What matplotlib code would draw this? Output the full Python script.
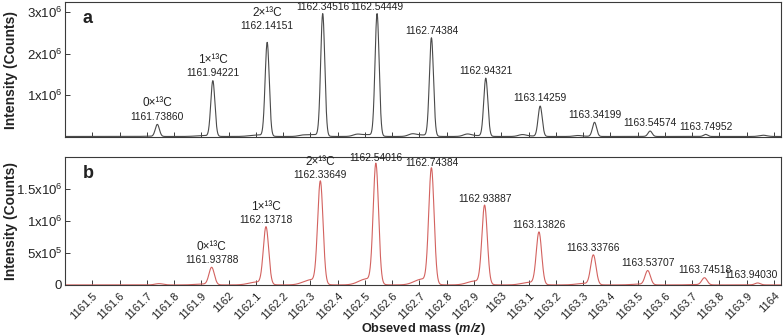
import numpy as np
import matplotlib
matplotlib.use("Agg")
import matplotlib.pyplot as plt

# ======================================================
# Setup
# ======================================================

plt.rcParams["font.family"] = ["Liberation Sans", "DejaVu Sans"]
plt.rcParams["mathtext.fontset"] = "custom"
plt.rcParams["mathtext.rm"] = "Liberation Sans"
plt.rcParams["mathtext.it"] = "Liberation Sans:italic"
plt.rcParams["mathtext.bf"] = "Liberation Sans:bold"
plt.rcParams["mathtext.bfit"] = "Liberation Sans:italic:bold"

LINE_A = "#4a4a4a"
LINE_B = "#d3625f"
SPINE = "#3a3a3a"
TEXT = "#222222"

XLIM = (1161.4, 1164.026)

# ======================================================
# DATA
# ======================================================

# panel a: labelled peaks (m/z, intensity)
mz_a = [1161.73860, 1161.94221, 1162.14151, 1162.34516, 1162.54449, 1162.74384,
        1162.94321, 1163.14259, 1163.34199, 1163.54574, 1163.74952]
int_a = [0.29e6, 1.34e6, 2.26e6, 2.95e6, 2.95e6, 2.37e6,
         1.40e6, 0.73e6, 0.34e6, 0.13e6, 0.05e6]
labels_a = ["1161.73860", "1161.94221", "1162.14151", "1162.34516", "1162.54449",
            "1162.74384", "1162.94321", "1163.14259", "1163.34199", "1163.54574",
            "1163.74952"]
iso_a = {0: "0×¹³C", 1: "1×¹³C", 2: "2×¹³C"}

# panel a: small unlabelled bumps
minor_mz_a = [1162.27, 1162.47, 1162.673, 1162.875, 1163.077, 1163.28, 1163.96]
minor_int_a = [0.02e6, 0.04e6, 0.05e6, 0.05e6, 0.04e6, 0.02e6, 0.03e6]

# panel b: labelled peaks
mz_b = [1161.93788, 1162.13718, 1162.33649, 1162.54016, 1162.74384, 1162.93887,
        1163.13826, 1163.33766, 1163.53707, 1163.74518, 1163.94030]
int_b = [0.27e6, 0.89e6, 1.59e6, 1.86e6, 1.79e6, 1.22e6,
         0.81e6, 0.46e6, 0.22e6, 0.11e6, 0.03e6]
labels_b = ["1161.93788", "1162.13718", "1162.33649", "1162.54016", "1162.74384",
            "1162.93887", "1163.13826", "1163.33766", "1163.53707", "1163.74518",
            "1163.94030"]
iso_b = {0: "0×¹³C", 1: "1×¹³C", 2: "2×¹³C"}

minor_mz_b = [1161.745]
minor_int_b = [0.02e6]

xticks = np.round(np.arange(1161.5, 1164.01, 0.1), 1)
xtick_labels = [("%g" % t) for t in xticks]

yticks_a = [1e6, 2e6, 3e6]
ytick_labels_a = [r"1x10$^{6}$", r"2x10$^{6}$", r"3x10$^{6}$"]
yticks_b = [0, 5e5, 1e6, 1.5e6]
ytick_labels_b = ["0", r"5x10$^{5}$", r"1x10$^{6}$", r"1.5x10$^{6}$"]


# ======================================================
# Profile helpers
# ======================================================

def profile(x, centers, heights, sigma, shoulder=0.0):
    y = np.zeros_like(x)
    for c, h in zip(centers, heights):
        y += h * np.exp(-0.5 * ((x - c) / sigma) ** 2)
        if shoulder:
            y += shoulder * h * np.exp(-0.5 * ((x - c + 0.035) / 0.028) ** 2)
    return y


def style_axes(ax):
    for s in ax.spines.values():
        s.set_color(SPINE)
        s.set_linewidth(0.8)
    ax.tick_params(direction="in", length=3.5, width=0.7, color=SPINE,
                   labelcolor=TEXT)
    ax.tick_params(axis="y", labelsize=9.5, pad=2)
    ax.set_xlim(*XLIM)
    ax.set_xticks(xticks)
    ax.set_ylabel("Intensity (Counts)", fontsize=10, fontweight="bold",
                  color=TEXT)
    ax.yaxis.set_label_coords(-0.066, 0.5)


def add_labels(ax, mz, heights, labels, iso, lift=None, shift=None):
    lift = lift or {}
    shift = shift or {}
    for i, (m, h, t) in enumerate(zip(mz, heights, labels)):
        dy = lift.get(i, 0)
        dx = shift.get(i, 0)
        ax.annotate(t, (m, h), xytext=(dx, 2 + dy), textcoords="offset points",
                    ha="center", va="bottom", fontsize=7.4, color=TEXT)
        if i in iso:
            ax.annotate(iso[i], (m, h), xytext=(dx, 10.8 + dy),
                        textcoords="offset points", ha="center", va="bottom",
                        fontsize=8.5, color=TEXT)


# ======================================================
# PLOT
# ======================================================

def main():
    fig = plt.figure(figsize=(7.83, 3.36), dpi=100)
    ax_a = fig.add_axes([0.083, 0.592, 0.9145, 0.402])
    ax_b = fig.add_axes([0.083, 0.152, 0.9145, 0.381])

    x = np.linspace(XLIM[0], XLIM[1], 8000)

    # panel a
    ya = profile(x, mz_a, int_a, 0.0075, shoulder=0.015)
    ya += profile(x, minor_mz_a, minor_int_a, 0.014)
    ax_a.plot(x, ya, color=LINE_A, lw=0.8)
    style_axes(ax_a)
    ax_a.set_ylim(-0.015e6, 3.25e6)
    ax_a.set_yticks(yticks_a)
    ax_a.set_yticklabels(ytick_labels_a)
    ax_a.tick_params(axis="x", labelbottom=False)
    add_labels(ax_a, mz_a, int_a, labels_a, iso_a, lift={2: 6.5})
    ax_a.text(0.025, 0.88, "a", transform=ax_a.transAxes, fontsize=13,
              fontweight="bold", color=TEXT, ha="left", va="center")

    # panel b
    yb = profile(x, mz_b, int_b, 0.0098, shoulder=0.05)
    yb += profile(x, minor_mz_b, minor_int_b, 0.015)
    ax_b.plot(x, yb, color=LINE_B, lw=0.8)
    style_axes(ax_b)
    ax_b.set_ylim(0, 2.0e6)
    ax_b.set_yticks(yticks_b)
    ax_b.set_yticklabels(ytick_labels_b)
    ax_b.set_xticklabels(xtick_labels, rotation=45, ha="right",
                         rotation_mode="anchor", fontsize=8)
    ax_b.tick_params(axis="x", pad=4)
    ax_b.set_xlabel(r"Obseved mass ($\mathbfit{m/z}$)", fontsize=9.2,
                    fontweight="bold", color=TEXT)
    ax_b.xaxis.set_label_coords(0.5, -0.28)
    add_labels(ax_b, mz_b, int_b, labels_b, iso_b, shift={10: -5})
    ax_b.text(0.025, 0.87, "b", transform=ax_b.transAxes, fontsize=13,
              fontweight="bold", color=TEXT, ha="left", va="center")

    fig.savefig("out.png", dpi=100)


if __name__ == "__main__":
    main()
